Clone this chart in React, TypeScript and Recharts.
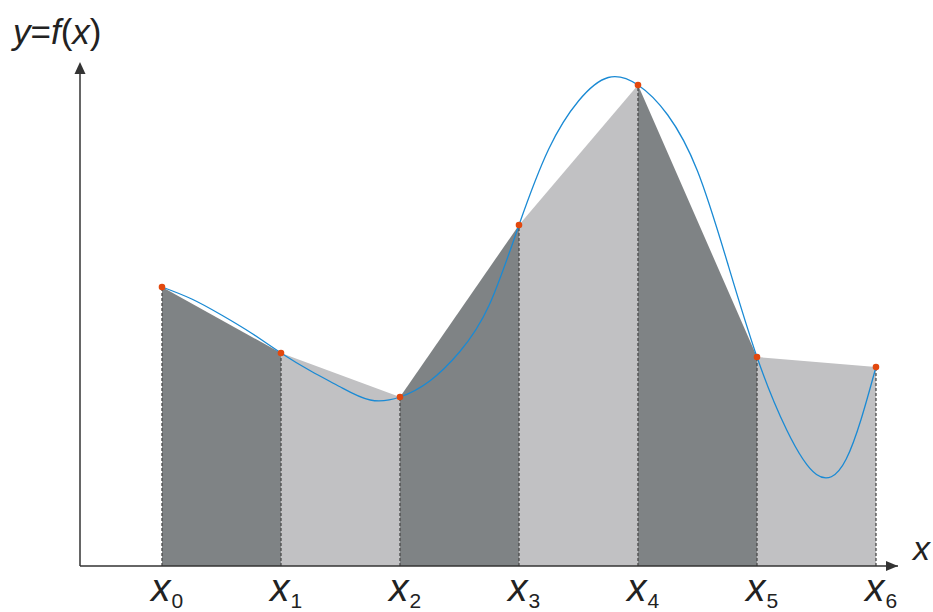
import React from 'react';
import { ComposedChart, Area, Line, Scatter, XAxis, YAxis, ReferenceLine } from 'recharts';

// Node positions and f(x_i) values
const nodeX = [0, 1, 2, 3, 4, 5, 6];
const nodeY = [5.58, 4.26, 3.38, 6.82, 9.62, 4.18, 3.98];
const tickSubs = ['0', '1', '2', '3', '4', '5', '6'];

// Samples of the smooth curve f(x) every quarter step
const curveX = [
  0, 0.25, 0.5, 0.75, 1, 1.25, 1.5, 1.75, 2, 2.25, 2.5, 2.75, 3,
  3.25, 3.5, 3.75, 4, 4.25, 4.5, 4.75, 5, 5.25, 5.5, 5.75, 6,
];
const curveY = [
  5.58, 5.34, 5.02, 4.66, 4.26, 3.9, 3.58, 3.32, 3.38, 3.7, 4.28, 5.22, 6.82,
  8.34, 9.3, 9.77, 9.62, 9.02, 7.9, 6.08, 4.18, 2.72, 1.83, 2.14, 3.98,
];

const X_MIN = -0.689;
const X_MAX = 6.185;
const Y_MAX = 10.08;

const DARK = '#7f8385';
const LIGHT = '#c1c1c3';
const AXIS = '#333';
const FONT = '"Liberation Sans", Arial, Helvetica, sans-serif';

const areaRows = nodeX.map((x, i) => {
  const row: any = { x };
  if (i > 0) row[`t${i - 1}`] = nodeY[i];
  if (i < nodeX.length - 1) row[`t${i}`] = nodeY[i];
  return row;
});
const curveData = curveX.map((x, i) => ({ x, y: curveY[i] }));
const pointData = nodeX.map((x, i) => ({ x, y: nodeY[i] }));
const xArrowData = [{ x: X_MAX, y: 0 }];
const yArrowData = [{ x: X_MIN, y: Y_MAX }];

const XTick = (props: any) => {
  const { x, y, payload, index } = props;
  const sub = tickSubs[index] ?? String(Math.round(payload.value));
  return (
    <text x={x - 11} y={y + 35} fontFamily={FONT} fill="#222">
      <tspan fontStyle="italic" fontSize={39}>x</tspan>
      <tspan fontSize={21} dy={7} dx={1}>{sub}</tspan>
    </text>
  );
};

const Dot = (props: any) => {
  const { cx, cy } = props;
  return <circle cx={cx} cy={cy} r={3.3} fill="#e2480e" />;
};

const XArrow = (props: any) => {
  const { cx, cy } = props;
  return <polygon points={`${cx},${cy} ${cx - 12},${cy - 5} ${cx - 12},${cy + 5}`} fill={AXIS} />;
};
const YArrow = (props: any) => {
  const { cx, cy } = props;
  return <polygon points={`${cx},${cy} ${cx - 5.5},${cy + 12} ${cx + 5.5},${cy + 12}`} fill={AXIS} />;
};

export default function App() {
  return (
    <div style={{ position: 'absolute', left: 0, top: 0, background: '#fff' }}>
      <ComposedChart
        width={933}
        height={612}
        data={areaRows}
        margin={{ top: 62, right: 35, bottom: 0, left: 80 }}
      >
        <XAxis
          dataKey="x"
          type="number"
          domain={[X_MIN, X_MAX]}
          ticks={nodeX}
          height={46}
          tickLine={false}
          tickSize={0}
          tickMargin={0}
          axisLine={{ stroke: AXIS, strokeWidth: 1.5 }}
          tick={<XTick />}
          interval={0}
          label={{
            content: (p: any) => {
              const vb = p.viewBox || {};
              return (
                <text x={vb.x + vb.width + 15} y={vb.y - 6} fontFamily={FONT} fontSize={34} fontStyle="italic" fill="#222">
                  x
                </text>
              );
            },
          }}
        />
        <YAxis type="number" domain={[0, Y_MAX]} hide />
        {nodeX.slice(0, -1).map((_, i) => (
          <Area
            key={`a${i}`}
            dataKey={`t${i}`}
            type="linear"
            fill={i % 2 === 0 ? DARK : LIGHT}
            fillOpacity={1}
            stroke="none"
            connectNulls
            dot={false}
            activeDot={false}
            isAnimationActive={false}
          />
        ))}
        {nodeX.map((x, i) => (
          <ReferenceLine
            key={`r${i}`}
            segment={[{ x, y: 0 }, { x, y: nodeY[i] }]}
            stroke="#4a4a4a"
            strokeWidth={1.3}
            strokeDasharray="3 2"
            ifOverflow="visible"
          />
        ))}
        <ReferenceLine
          segment={[{ x: X_MIN, y: 0 }, { x: X_MIN, y: Y_MAX - 0.1 }]}
          stroke={AXIS}
          strokeWidth={1.5}
          ifOverflow="visible"
          label={{
            content: (p: any) => {
              const vb = p.viewBox || {};
              const top = Math.min(vb.y ?? 62, (vb.y ?? 62) + (vb.height ?? 0));
              return (
                <text x={(vb.x ?? 80) - 67} y={top - 23} fontFamily={FONT} fontSize={35} fill="#222">
                  <tspan fontStyle="italic">y</tspan>
                  <tspan>=</tspan>
                  <tspan fontStyle="italic">f</tspan>
                  <tspan>(</tspan>
                  <tspan fontStyle="italic">x</tspan>
                  <tspan>)</tspan>
                </text>
              );
            },
          }}
        />
        <Line
          data={curveData}
          dataKey="y"
          type="natural"
          stroke="#1a8ad4"
          strokeWidth={1.3}
          dot={false}
          activeDot={false}
          isAnimationActive={false}
        />
        <Scatter data={pointData} dataKey="y" shape={<Dot />} isAnimationActive={false} />
        <Scatter data={xArrowData} dataKey="y" shape={<XArrow />} isAnimationActive={false} />
        <Scatter data={yArrowData} dataKey="y" shape={<YArrow />} isAnimationActive={false} />
      </ComposedChart>
    </div>
  );
}
